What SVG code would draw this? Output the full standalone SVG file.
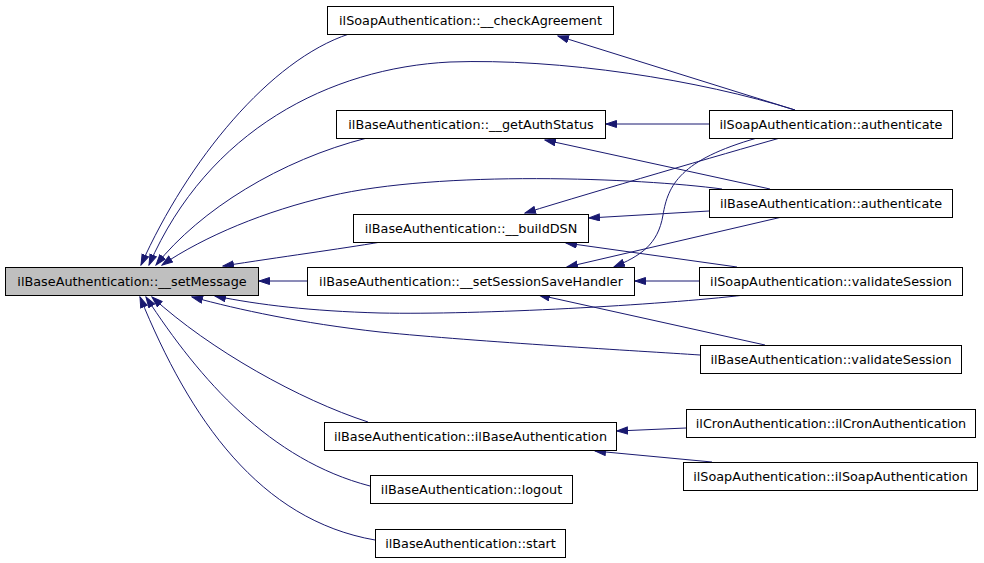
<svg xmlns="http://www.w3.org/2000/svg" width="984" height="563" viewBox="0 0 984 563">
<defs>
<style>
.n rect{fill:#ffffff;stroke:#000000;stroke-width:1}
.n.g rect{fill:#bfbfbf}
.n text{font-family:"DejaVu Sans","Liberation Sans",sans-serif;font-size:12.8px;fill:#000000;text-anchor:middle}
.e path{fill:none;stroke:#191970;stroke-width:1;marker-end:url(#ah)}
</style>
<marker id="ah" markerWidth="12" markerHeight="9" refX="11" refY="4" orient="auto" markerUnits="userSpaceOnUse">
<path d="M0.5,0.5 L11,4 L0.5,7.5 z" fill="#191970" stroke="#191970" stroke-width="1"/>
</marker>
</defs>
<rect width="984" height="563" fill="#ffffff"/>
<g id="edges" class="e">
<path d="M349,34 C270,60 188,160 141,265"/>
<path d="M795,110 C700,80 560,58 450,62 C330,68 208,130 149,265"/>
<path d="M795,110 L558,36"/>
<path d="M709,124 L606,124"/>
<path d="M780,138 C720,155 600,190 525,213"/>
<path d="M757,138 C680,160 668,185 663,215 C658,245 640,256 614,267"/>
<path d="M367,138 C280,160 200,210 156,265"/>
<path d="M770,189 L545,140"/>
<path d="M722,189 C640,178 440,170 330,196 C265,211 205,236 162,265"/>
<path d="M381,242 C340,249 280,257 223,266"/>
<path d="M709,211 L589,218"/>
<path d="M782,217 L567,267"/>
<path d="M307,281 L259,281"/>
<path d="M699,281 L635,281"/>
<path d="M737,267 L566,243"/>
<path d="M745,295 C660,305 480,315 380,313 C310,311 260,305 215,296"/>
<path d="M700,355 C640,351 480,342 380,332 C300,323 240,310 192,297"/>
<path d="M765,345 L539,295"/>
<path d="M368,422 C300,400 210,350 152,297"/>
<path d="M370,486 C270,460 200,380 146,297"/>
<path d="M375,540 C260,520 190,420 140,297"/>
<path d="M686,428 L617,431"/>
<path d="M712,462 L595,451"/>
</g>
<g id="n_setMessage" class="n g"><rect x="5.5" y="267.5" width="253" height="28"/><text x="132" y="286">ilBaseAuthentication::__setMessage</text></g>
<g id="n_checkAgreement" class="n"><rect x="327.5" y="6.5" width="286" height="28"/><text x="470.5" y="25">ilSoapAuthentication::__checkAgreement</text></g>
<g id="n_getAuthStatus" class="n"><rect x="336.5" y="110.5" width="269" height="28"/><text x="471" y="129">ilBaseAuthentication::__getAuthStatus</text></g>
<g id="n_buildDSN" class="n"><rect x="353.5" y="214.5" width="235" height="28"/><text x="471" y="233">ilBaseAuthentication::__buildDSN</text></g>
<g id="n_setSessionSaveHandler" class="n"><rect x="307.5" y="267.5" width="327" height="28"/><text x="471" y="286">ilBaseAuthentication::__setSessionSaveHandler</text></g>
<g id="n_ilBaseAuthentication" class="n"><rect x="324.5" y="422.5" width="292" height="28"/><text x="470.5" y="441">ilBaseAuthentication::ilBaseAuthentication</text></g>
<g id="n_logout" class="n"><rect x="370.5" y="475.5" width="202" height="28"/><text x="471.5" y="494">ilBaseAuthentication::logout</text></g>
<g id="n_start" class="n"><rect x="375.5" y="529.5" width="190" height="28"/><text x="470.5" y="548">ilBaseAuthentication::start</text></g>
<g id="n_soapAuthenticate" class="n"><rect x="709.5" y="110.5" width="243" height="28"/><text x="831" y="129">ilSoapAuthentication::authenticate</text></g>
<g id="n_baseAuthenticate" class="n"><rect x="709.5" y="189.5" width="243" height="28"/><text x="831" y="208">ilBaseAuthentication::authenticate</text></g>
<g id="n_soapValidateSession" class="n"><rect x="699.5" y="267.5" width="263" height="28"/><text x="831" y="286">ilSoapAuthentication::validateSession</text></g>
<g id="n_baseValidateSession" class="n"><rect x="700.5" y="345.5" width="261" height="28"/><text x="831" y="364">ilBaseAuthentication::validateSession</text></g>
<g id="n_cron" class="n"><rect x="686.5" y="409.5" width="289" height="28"/><text x="831" y="428">ilCronAuthentication::ilCronAuthentication</text></g>
<g id="n_soapCtor" class="n"><rect x="683.5" y="462.5" width="294" height="28"/><text x="830.5" y="481">ilSoapAuthentication::ilSoapAuthentication</text></g>
</svg>
